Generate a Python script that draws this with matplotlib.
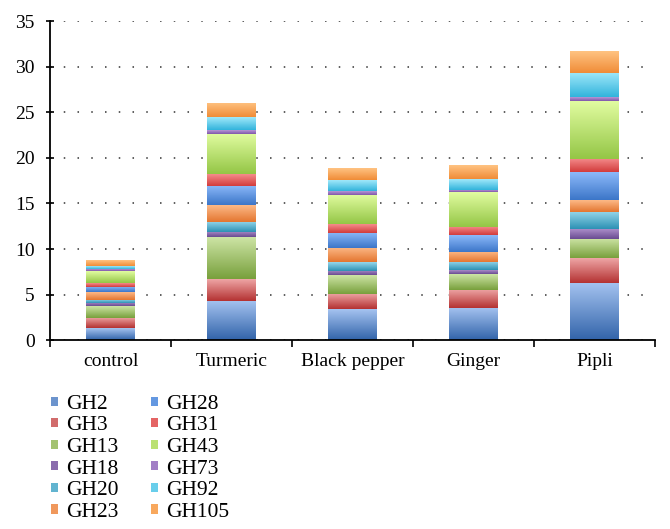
import matplotlib
matplotlib.use("Agg")
import matplotlib.pyplot as plt
import numpy as np

# Values
categories = ["control", "Turmeric", "Black pepper", "Ginger", "Pipli"]
GH2 = [1.3, 4.3, 3.37, 3.55, 6.3]
GH3 = [1.1, 2.4, 1.68, 2.0, 2.7]
GH13 = [1.3, 4.6, 2.05, 1.75, 2.15]
GH18 = [0.4, 0.6, 0.5, 0.38, 1.0]
GH20 = [0.35, 1.1, 0.96, 0.88, 1.95]
GH23 = [0.8, 1.8, 1.54, 1.1, 1.3]
GH28 = [0.6, 2.1, 1.68, 1.85, 3.0]
GH31 = [0.4, 1.3, 0.95, 0.9, 1.45]
GH43 = [1.3, 4.4, 3.22, 3.8, 6.35]
GH73 = [0.3, 0.5, 0.45, 0.3, 0.45]
GH92 = [0.3, 1.35, 1.16, 1.2, 2.65]
GH105 = [0.65, 1.6, 1.29, 1.5, 2.4]

labels = ["GH2", "GH3", "GH13", "GH18", "GH20", "GH23",
          "GH28", "GH31", "GH43", "GH73", "GH92", "GH105"]
series = [GH2, GH3, GH13, GH18, GH20, GH23, GH28, GH31, GH43, GH73, GH92, GH105]

# (top colour, bottom colour) of the vertical gradient for each series
gradients = [
    ((165, 195, 240), (50, 100, 170)),
    ((238, 165, 165), (180, 50, 50)),
    ((205, 228, 165), (120, 160, 60)),
    ((170, 140, 200), (105, 75, 145)),
    ((150, 215, 235), (45, 145, 180)),
    ((252, 185, 135), (228, 118, 48)),
    ((140, 185, 250), (60, 118, 200)),
    ((245, 140, 140), (210, 60, 60)),
    ((225, 252, 160), (148, 198, 70)),
    ((195, 165, 225), (128, 88, 170)),
    ((160, 232, 250), (50, 180, 220)),
    ((255, 195, 130), (240, 140, 55)),
]

plt.rcParams['font.family'] = ['Liberation Serif', 'DejaVu Serif']
plt.rcParams['font.size'] = 14

fig = plt.figure(figsize=(6.70, 5.29), dpi=100)
ax = fig.add_axes([0.0746, 0.357, 0.903, 0.603])

x = np.arange(len(categories))
bottom = np.zeros(len(categories))
containers = []
for vals, lab, (top_c, bot_c) in zip(series, labels, gradients):
    mid = tuple((a + b) / 2 / 255 for a, b in zip(top_c, bot_c))
    bars = ax.bar(x, vals, 0.4, bottom=bottom, color=mid, label=lab,
                  linewidth=0, zorder=2)
    containers.append((bars, top_c, bot_c))
    bottom = bottom + np.array(vals)

# fill every bar with a vertical gradient, clipped to the bar itself
n = 64
t = np.linspace(0, 1, n)[:, None]
for bars, top_c, bot_c in containers:
    top_a = np.array(top_c) / 255
    bot_a = np.array(bot_c) / 255
    img = (bot_a[None, :] * (1 - t) + top_a[None, :] * t)[:, None, :]
    for rect in bars:
        bx, by = rect.get_x(), rect.get_y()
        bw, bh = rect.get_width(), rect.get_height()
        im = ax.imshow(img, extent=[bx, bx + bw, by, by + bh], origin='lower',
                       aspect='auto', zorder=2.5, interpolation='bilinear')
        im.set_clip_path(rect)

ax.set_xlim(-0.5, len(categories) - 0.5)
ax.set_ylim(0, 35)
ax.set_yticks(np.arange(0, 36, 5))

ax.set_xticks(x)
ax.set_xticklabels(categories)
ax.set_xticks(np.arange(-0.5, len(categories)), minor=True)
ax.tick_params(axis='x', which='major', length=0, pad=9)
ax.tick_params(axis='x', which='minor', length=5, width=1.2, direction='out')
ax.tick_params(axis='y', length=6, width=1.2, direction='inout', pad=8)

ax.spines['top'].set_visible(False)
ax.spines['right'].set_visible(False)
ax.spines['left'].set_linewidth(1.3)
ax.spines['bottom'].set_linewidth(1.3)

ax.set_axisbelow(True)
ax.yaxis.grid(True, linestyle=(0, (1, 8)), color='#333333', linewidth=1.1)

handles = [c[0] for c in containers]
fig.legend(handles, labels, loc='upper left', bbox_to_anchor=(0.053, 0.282),
           ncol=2, frameon=False, fontsize=15.5, handlelength=0.36,
           handleheight=0.28, handletextpad=0.35, labelspacing=0.12,
           columnspacing=1.5, borderpad=0.2)

fig.savefig("out.png", dpi=100)
